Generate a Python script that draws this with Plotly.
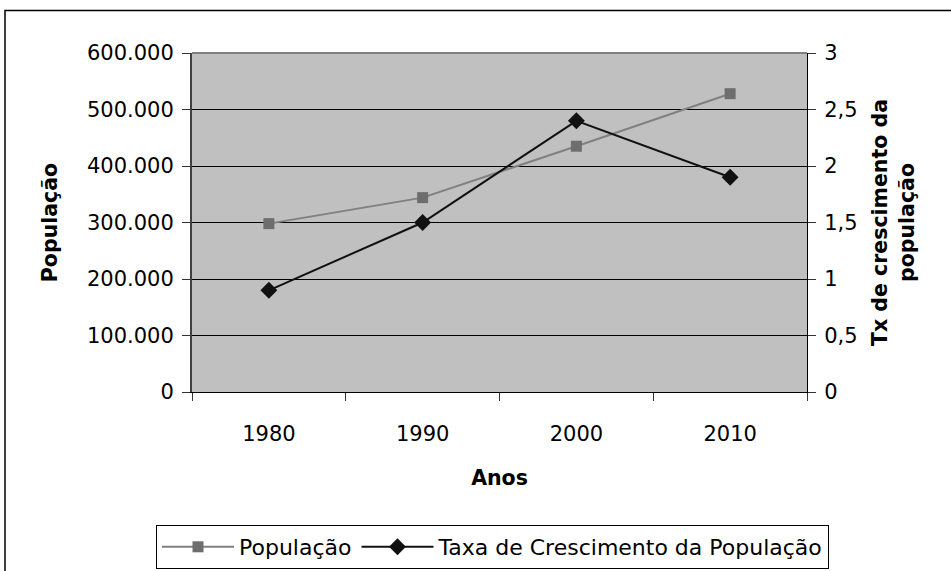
import plotly.graph_objects as go

anos = ["1980", "1990", "2000", "2010"]
populacao = [298000, 344000, 435000, 528000]
taxa = [0.9, 1.5, 2.4, 1.9]
y1_ticks = [0, 100000, 200000, 300000, 400000, 500000, 600000]
y2_ticks = [0, 0.5, 1, 1.5, 2, 2.5, 3]

W, H = 951, 571
L, R, T, B = 192, 807, 53, 392

fig = go.Figure()
fig.add_trace(go.Scatter(
    x=anos, y=populacao, name="População", mode="lines+markers",
    line=dict(color="#808080", width=2),
    marker=dict(symbol="square", size=11, color="#6e6e6e"),
))
fig.add_trace(go.Scatter(
    x=anos, y=taxa, name="Taxa de Crescimento da População", mode="lines+markers",
    line=dict(color="#111111", width=2),
    marker=dict(symbol="diamond", size=13, color="#111111"),
    yaxis="y2",
))

font = "DejaVu Sans, Liberation Sans, Arial, sans-serif"
pw = R - L
ph = B - T
FS = 21
TFS = 20.5

fig.update_layout(
    width=W, height=H,
    margin=dict(l=L, r=W - R, t=T, b=H - B, pad=0, autoexpand=False),
    paper_bgcolor="white",
    plot_bgcolor="#C0C0C0",
    separators=",.",
    font=dict(family=font, size=FS, color="black"),
    showlegend=True,
    legend=dict(
        orientation="h", x=(829 - L) / pw, xanchor="right", y=(B - 525) / ph, yanchor="top",
        bordercolor="black", borderwidth=1, bgcolor="white",
        font=dict(size=22), itemwidth=72, tracegroupgap=0,
    ),
    xaxis=dict(
        type="category", range=[-0.5, 3.5], tickson="boundaries",
        ticks="outside", ticklen=8, tickcolor="#333333",
        showgrid=False, showline=True, linecolor="black", linewidth=1,
        tickfont=dict(size=FS), ticklabelstandoff=23, automargin=False,
        title=dict(text="<b>Anos</b>", font=dict(size=TFS), standoff=25),
    ),
    yaxis=dict(
        range=[0, 600000], tickvals=y1_ticks, tickformat=",.0f",
        ticks="outside", ticklen=8, tickcolor="#333333",
        showgrid=True, gridcolor="black", gridwidth=1,
        showline=True, linecolor="#404040", linewidth=2,
        zeroline=False, tickfont=dict(size=FS), ticklabelstandoff=4, automargin=False,
        title=dict(text="<b>População</b>", font=dict(size=TFS), standoff=24),
    ),
    yaxis2=dict(
        range=[0, 3], tickvals=y2_ticks, overlaying="y", side="right",
        ticks="outside", ticklen=8, tickcolor="#333333",
        showgrid=False, showline=True, linecolor="black", linewidth=1,
        zeroline=False, tickfont=dict(size=FS), ticklabelstandoff=4, automargin=False,
        title=dict(text="<b>Tx de crescimento da<br>população</b>", font=dict(size=TFS), standoff=16),
    ),
)

# top border of plot area
fig.add_shape(type="line", xref="paper", yref="paper", x0=0, x1=1, y0=1, y1=1,
              line=dict(color="#808080", width=2))
# outer chart frame
fig.add_shape(type="rect", xref="paper", yref="paper",
              x0=(5 - L) / pw, x1=(960 - L) / pw,
              y0=(B - 600) / ph, y1=(B - 10.5) / ph,
              line=dict(color="black", width=1.5), layer="below")

fig.write_html("out.html", config={"displayModeBar": False},
               post_script="document.body.style.margin='0';document.body.style.overflow='hidden';")
